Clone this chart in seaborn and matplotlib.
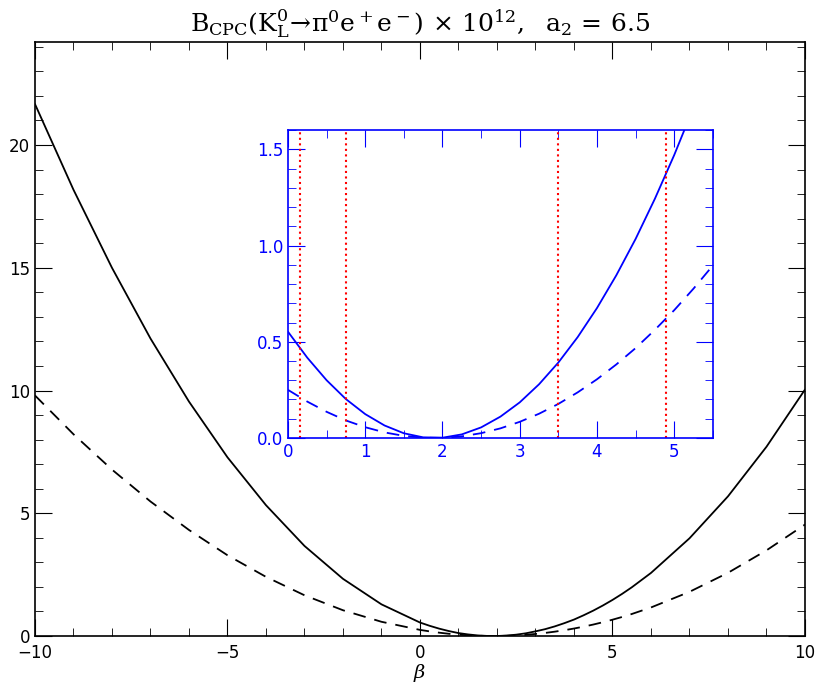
import matplotlib
matplotlib.use("Agg")
import matplotlib.pyplot as plt
import seaborn as sns
import pandas as pd
from matplotlib.ticker import MultipleLocator

beta_coarse = [-10,-9,-8,-7,-6,-5,-4,-3,-2,-1,0,1,2,3,4,5,6,7,8,9,10]
solid_coarse = [21.67,18.18,15.00,12.12,9.55,7.28,5.33,3.67,2.33,1.29,0.55,0.12,0.00,0.19,0.67,1.47,2.57,3.98,5.69,7.71,10.04]
dashed_coarse = [9.80,8.22,6.78,5.48,4.32,3.29,2.41,1.66,1.05,0.58,0.25,0.056,0.0007,0.084,0.305,0.665,1.163,1.80,2.575,3.49,4.54]

beta_fine = [0,0.25,0.5,0.75,1,1.25,1.5,1.75,2,2.25,2.5,2.75,3,3.25,3.5,3.75,4,4.25,4.5,4.75,5,5.25,5.5]
solid_fine = [0.552,0.417,0.300,0.202,0.124,0.065,0.0245,0.0034,0.0015,0.0187,0.055,0.111,0.185,0.279,0.392,0.524,0.675,0.845,1.034,1.243,1.470,1.717,1.983]
dashed_fine = [0.250,0.189,0.136,0.091,0.056,0.029,0.011,0.0015,0.0007,0.0085,0.025,0.050,0.084,0.126,0.177,0.237,0.305,0.382,0.467,0.562,0.664,0.776,0.896]

vlines = [0.15, 0.75, 3.5, 4.9]

sns.set_style("ticks")
plt.rcParams['font.family'] = ['DejaVu Sans']
plt.rcParams['mathtext.fontset'] = 'dejavuserif'
plt.rcParams['text.color'] = 'black'
plt.rcParams['axes.labelcolor'] = 'black'

df = pd.concat([
    pd.DataFrame({"beta": beta_coarse, "solid": solid_coarse, "dashed": dashed_coarse}),
    pd.DataFrame({"beta": beta_fine, "solid": solid_fine, "dashed": dashed_fine}),
]).drop_duplicates("beta").sort_values("beta")
dfi = pd.DataFrame({"beta": beta_fine, "solid": solid_fine, "dashed": dashed_fine})

fig = plt.figure(figsize=(8.17, 6.99), dpi=100)
ax = fig.add_axes([0.0428, 0.0901, 0.9425, 0.8499])
sns.lineplot(data=df, x="beta", y="solid", color="black", lw=1.3, ax=ax)
sns.lineplot(data=df, x="beta", y="dashed", color="black", lw=1.3, ax=ax, linestyle=(0, (7, 5)))
ax.set_xlim(-10, 10); ax.set_ylim(0, 24.2)
ax.xaxis.set_major_locator(MultipleLocator(5)); ax.xaxis.set_minor_locator(MultipleLocator(1))
ax.yaxis.set_major_locator(MultipleLocator(5)); ax.yaxis.set_minor_locator(MultipleLocator(1))
ax.tick_params(which="both", direction="in", top=True, right=True, labelsize=12, colors="black")
ax.tick_params(which="major", length=12)
ax.tick_params(which="minor", length=6)
ax.tick_params(axis="x", pad=6)
ax.set_xlabel(r"$\beta$", fontsize=14, labelpad=0)
ax.set_ylabel("")
for s in ax.spines.values():
    s.set_linewidth(1.2); s.set_color("black")
ax.set_title(r"$\mathrm{B_{CPC}(K_L^0\!\rightarrow\!\pi^0e^+e^-)\,\times\,10^{12},\ \ a_2\,=\,6.5}$",
             fontsize=18, pad=8)

axi = fig.add_axes([0.3525, 0.3734, 0.52, 0.4406])
sns.lineplot(data=dfi, x="beta", y="solid", color="blue", lw=1.3, ax=axi)
sns.lineplot(data=dfi, x="beta", y="dashed", color="blue", lw=1.3, ax=axi, linestyle=(0, (7, 5)))
for v in vlines:
    axi.axvline(v, color="red", ls=":", lw=1.5)
axi.set_xlim(0, 5.5); axi.set_ylim(0, 1.6)
axi.xaxis.set_major_locator(MultipleLocator(1)); axi.xaxis.set_minor_locator(MultipleLocator(0.5))
axi.yaxis.set_major_locator(MultipleLocator(0.5)); axi.yaxis.set_minor_locator(MultipleLocator(0.1))
axi.tick_params(which="both", direction="in", top=True, right=True, labelsize=12, colors="blue")
axi.tick_params(which="major", length=12)
axi.tick_params(which="minor", length=6)
axi.set_xlabel(""); axi.set_ylabel("")
for s in axi.spines.values():
    s.set_color("blue"); s.set_linewidth(1.2)

fig.savefig("out.png", dpi=100)
